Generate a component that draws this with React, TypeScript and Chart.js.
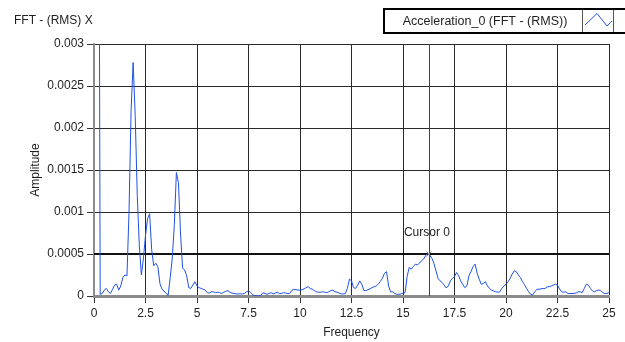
import { useEffect, useRef } from 'react';
import { Chart, registerables } from 'chart.js';

Chart.register(...registerables);

const CHART_TITLE = 'FFT - (RMS) X';
const SERIES_NAME = 'Acceleration_0 (FFT - (RMS))';
const X_TITLE = 'Frequency';
const Y_TITLE = 'Amplitude';

// frequency resolution of the spectrum (Hz)
const FREQ_STEP = 0.1;
// amplitude values in units of 1e-3, one row per Hz (0.0 .. 25.0 Hz)
const AMPLITUDE_E3 = [
  12, 20, 9, 0.02, 0.03, 0.07, 0.09, 0.05, 0.03, 0.08,
  0.13, 0.14, 0.07, 0.12, 0.22, 0.25, 0.24, 1.0, 2.2, 2.78,
  2.15, 1.2, 0.6, 0.25, 0.45, 0.72, 0.92, 0.98, 0.55, 0.36,
  0.39, 0.35, 0.15, 0.08, 0.06, 0.03, 0.01, 0.22, 0.45, 0.85,
  1.47, 1.35, 0.75, 0.33, 0.31, 0.24, 0.1, 0.09, 0.13, 0.17,
  0.12, 0.1, 0.09, 0.08, 0.07, 0.04, 0.035, 0.05, 0.05, 0.04,
  0.045, 0.04, 0.03, 0.045, 0.055, 0.065, 0.045, 0.035, 0.03, 0.025,
  0.025, 0.025, 0.025, 0.03, 0.05, 0.06, 0.045, 0.015, 0.005, 0.005,
  0, 0.01, 0.04, 0.03, 0.02, 0.03, 0.04, 0.025, 0.035, 0.045,
  0.03, 0.03, 0.04, 0.035, 0.03, 0.03, 0.065, 0.08, 0.075, 0.07,
  0.07, 0.075, 0.085, 0.1, 0.11, 0.09, 0.08, 0.065, 0.05, 0.045,
  0.045, 0.05, 0.045, 0.04, 0.05, 0.065, 0.07, 0.05, 0.045, 0.035,
  0.025, 0.025, 0.03, 0.09, 0.2, 0.18, 0.1, 0.09, 0.13, 0.18,
  0.14, 0.065, 0.065, 0.075, 0.085, 0.1, 0.11, 0.12, 0.14, 0.175,
  0.21, 0.27, 0.29, 0.12, 0.05, 0.05, 0.03, 0.02, 0.02, 0.025,
  0.03, 0.04, 0.23, 0.34, 0.32, 0.35, 0.38, 0.37, 0.39, 0.42,
  0.44, 0.48, 0.51, 0.48, 0.45, 0.39, 0.3, 0.21, 0.18, 0.16,
  0.13, 0.095, 0.12, 0.18, 0.21, 0.23, 0.28, 0.24, 0.18, 0.14,
  0.1, 0.12, 0.24, 0.29, 0.35, 0.38, 0.27, 0.2, 0.14, 0.15,
  0.17, 0.12, 0.09, 0.07, 0.06, 0.05, 0.045, 0.05, 0.09, 0.12,
  0.14, 0.17, 0.21, 0.26, 0.3, 0.29, 0.25, 0.22, 0.17, 0.135,
  0.09, 0.05, 0.02, 0.015, 0.05, 0.08, 0.08, 0.085, 0.09, 0.09,
  0.11, 0.11, 0.12, 0.13, 0.14, 0.13, 0.085, 0.05, 0.045, 0.05,
  0.03, 0.03, 0.03, 0.03, 0.035, 0.05, 0.05, 0.04, 0.09, 0.14,
  0.13, 0.09, 0.06, 0.05, 0.065, 0.07, 0.065, 0.04, 0.03, 0.03,
  0.04,
];

const X_TICKS = [0, 2.5, 5, 7.5, 10, 12.5, 15, 17.5, 20, 22.5, 25];
const X_TICK_LABELS = ['0', '2.5', '5', '7.5', '10', '12.5', '15', '17.5', '20', '22.5', '25'];
const Y_TICKS = [0, 0.0005, 0.001, 0.0015, 0.002, 0.0025, 0.003];
const Y_TICK_LABELS = ['0', '0.0005', '0.001', '0.0015', '0.002', '0.0025', '0.003'];

const CURSOR_NAME = 'Cursor 0';
const CURSOR_X = 16.26;
const CURSOR_Y = 0.0005;

const FONT = '"Liberation Sans", Arial, sans-serif';
const TEXT_COLOR = '#1e1e1e';
const LINE_COLOR = '#1f52e4';
const GRID_COLOR = '#2a2a2a';

const decorPlugin = {
  id: 'decor',
  beforeDraw(chart: any) {
    const { ctx, width, height } = chart;
    ctx.save();
    ctx.fillStyle = '#ffffff';
    ctx.fillRect(0, 0, width, height);
    ctx.restore();
  },
  beforeDatasetsDraw(chart: any) {
    const { ctx, chartArea, scales } = chart;
    const cx = Math.round(scales.x.getPixelForValue(CURSOR_X)) + 0.5;
    const cy = Math.round(scales.y.getPixelForValue(CURSOR_Y));
    ctx.save();
    ctx.strokeStyle = '#444';
    ctx.lineWidth = 1;
    ctx.beginPath();
    ctx.moveTo(cx, chartArea.top);
    ctx.lineTo(cx, chartArea.bottom);
    ctx.stroke();
    ctx.strokeStyle = '#111';
    ctx.lineWidth = 2;
    ctx.beginPath();
    ctx.moveTo(chartArea.left, cy);
    ctx.lineTo(chartArea.right, cy);
    ctx.stroke();
    ctx.restore();
  },
  afterDraw(chart: any) {
    const { ctx, scales } = chart;
    ctx.save();
    // title
    ctx.font = `12px ${FONT}`;
    ctx.fillStyle = TEXT_COLOR;
    ctx.textAlign = 'left';
    ctx.textBaseline = 'middle';
    ctx.fillText(CHART_TITLE, 14, 21);

    // legend box
    ctx.strokeStyle = '#000';
    ctx.lineWidth = 2;
    ctx.strokeRect(384, 9, 260, 24);
    ctx.lineWidth = 1;
    ctx.strokeStyle = '#555';
    ctx.beginPath();
    ctx.moveTo(582.5, 10);
    ctx.lineTo(582.5, 32);
    ctx.moveTo(613.5, 10);
    ctx.lineTo(613.5, 32);
    ctx.stroke();
    ctx.font = `12.5px ${FONT}`;
    ctx.fillStyle = TEXT_COLOR;
    ctx.textAlign = 'center';
    ctx.fillText(SERIES_NAME, 485, 21.5);
    ctx.strokeStyle = LINE_COLOR;
    ctx.beginPath();
    ctx.moveTo(585, 25);
    ctx.lineTo(597, 13.5);
    ctx.lineTo(607, 26);
    ctx.lineTo(612, 21);
    ctx.stroke();

    // cursor marker + label
    const cx = scales.x.getPixelForValue(CURSOR_X);
    const cy = scales.y.getPixelForValue(CURSOR_Y);
    ctx.strokeStyle = '#888';
    ctx.lineWidth = 1;
    ctx.beginPath();
    ctx.moveTo(cx - 2.5, cy - 2.5);
    ctx.lineTo(cx + 2.5, cy + 2.5);
    ctx.moveTo(cx + 2.5, cy - 2.5);
    ctx.lineTo(cx - 2.5, cy + 2.5);
    ctx.stroke();
    ctx.font = `12px ${FONT}`;
    ctx.fillStyle = TEXT_COLOR;
    ctx.textAlign = 'center';
    ctx.fillText(CURSOR_NAME, cx - 2, cy - 21);
    ctx.restore();
  },
};

export default function App() {
  const canvasRef = useRef<HTMLCanvasElement | null>(null);

  useEffect(() => {
    const canvas = canvasRef.current;
    if (!canvas) return;
    const points = AMPLITUDE_E3.map((a, i) => ({
      x: Math.round(i * FREQ_STEP * 100) / 100,
      y: a / 1000,
    }));

    const chart = new Chart(canvas, {
      type: 'line',
      data: {
        datasets: [
          {
            label: SERIES_NAME,
            data: points,
            borderColor: LINE_COLOR,
            borderWidth: 1,
            pointRadius: 0,
            tension: 0,
            fill: false,
          },
        ],
      },
      options: {
        responsive: false,
        animation: false,
        devicePixelRatio: 1,
        layout: { padding: { left: 0, top: 44, right: 16, bottom: 0 } },
        plugins: {
          legend: { display: false },
          title: { display: false },
          tooltip: { enabled: false },
        },
        scales: {
          x: {
            type: 'linear',
            min: 0,
            max: 25,
            afterBuildTicks: (s: any) => {
              s.ticks = X_TICKS.map((v) => ({ value: v }));
            },
            afterFit: (s: any) => {
              s.height = 46;
            },
            ticks: {
              autoSkip: false,
              maxRotation: 0,
              padding: 3,
              color: TEXT_COLOR,
              font: { family: FONT, size: 12 },
              callback: (_v: any, i: number) => X_TICK_LABELS[i],
            },
            grid: { color: GRID_COLOR, lineWidth: 1, tickLength: 7, tickColor: '#333' },
            border: { display: true, color: '#8c8c8c', width: 3 },
            title: {
              display: true,
              text: X_TITLE,
              color: TEXT_COLOR,
              font: { family: FONT, size: 12 },
              padding: { top: 0, bottom: 2 },
            },
          },
          y: {
            type: 'linear',
            min: 0,
            max: 0.003,
            afterBuildTicks: (s: any) => {
              s.ticks = Y_TICKS.map((v) => ({ value: v }));
            },
            afterFit: (s: any) => {
              s.width = 94;
            },
            ticks: {
              padding: 3,
              color: TEXT_COLOR,
              font: { family: FONT, size: 12 },
              callback: (_v: any, i: number) => Y_TICK_LABELS[i],
            },
            grid: { color: GRID_COLOR, lineWidth: 1, tickLength: 7, tickColor: '#333' },
            border: { display: true, color: '#8c8c8c', width: 2 },
            title: {
              display: true,
              text: Y_TITLE,
              color: TEXT_COLOR,
              font: { family: FONT, size: 12 },
              padding: { top: 28, bottom: 0 },
            },
          },
        },
      },
      plugins: [decorPlugin],
    });
    return () => chart.destroy();
  }, []);

  return (
    <div style={{ position: 'absolute', left: 0, top: 0, width: 625, height: 342, background: '#fff' }}>
      <canvas ref={canvasRef} width={625} height={342} style={{ display: 'block' }} />
    </div>
  );
}
